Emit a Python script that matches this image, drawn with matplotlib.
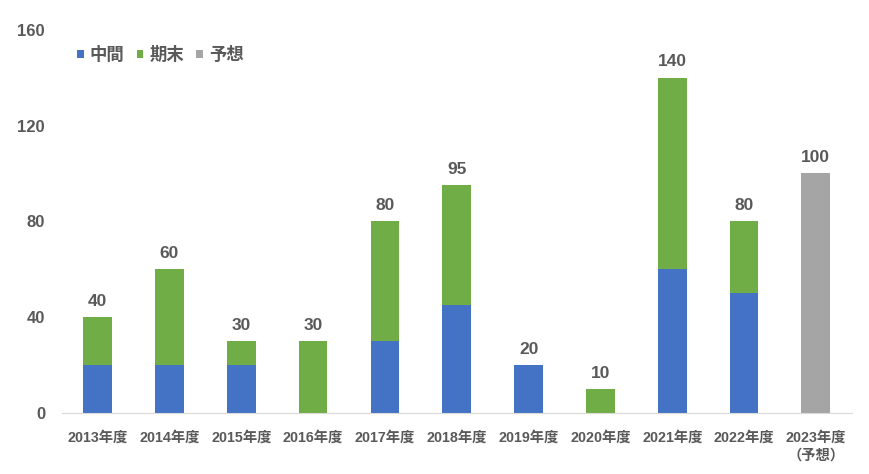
import matplotlib
matplotlib.use("Agg")
import matplotlib.pyplot as plt
import numpy as np

plt.rcParams['font.family'] = ['Liberation Sans', 'Noto Sans CJK JP', 'DejaVu Sans']

categories = ['2013年度', '2014年度', '2015年度', '2016年度', '2017年度', '2018年度',
              '2019年度', '2020年度', '2021年度', '2022年度', '2023年度\n（予想）']
interim = [20, 20, 20, 0, 30, 45, 20, 0, 60, 50, 0]
year_end = [20, 40, 10, 30, 50, 50, 0, 10, 80, 30, 0]
forecast = [0, 0, 0, 0, 0, 0, 0, 0, 0, 0, 100]
totals = [40, 60, 30, 30, 80, 95, 20, 10, 140, 80, 100]
yticks = [0, 40, 80, 120, 160]

c_blue = '#4472C4'
c_green = '#70AD47'
c_grey = '#A5A5A5'
txt = '#595959'

fig = plt.figure(figsize=(8.7, 4.74), dpi=100)
ax = fig.add_axes([0.071, 0.129, 0.908, 0.808])

x = np.arange(len(categories))
w = 0.4
interim = np.array(interim)
year_end = np.array(year_end)
forecast = np.array(forecast)
ax.bar(x, interim, w, color=c_blue, label='中間')
ax.bar(x, year_end, w, bottom=interim, color=c_green, label='期末')
ax.bar(x, forecast, w, bottom=interim + year_end, color=c_grey, label='予想')

for xi, t in zip(x, totals):
    ax.annotate(str(t), (xi, t), xytext=(0, 6), textcoords='offset points',
                ha='center', va='bottom', fontsize=12.5, fontweight='bold', color=txt)

ax.set_xlim(-0.5, len(categories) - 0.5)
ax.set_ylim(0, 160)
ax.set_yticks(yticks)
ax.set_yticklabels([str(v) for v in yticks], fontsize=12, fontweight='bold', color=txt)
ax.set_xticks(x)
ax.set_xticklabels(categories, fontsize=10.3, fontweight='bold', color=txt, linespacing=1.3)
ax.tick_params(axis='both', length=0)
ax.tick_params(axis='y', pad=12)
ax.tick_params(axis='x', pad=13)
for s in ['top', 'right', 'left']:
    ax.spines[s].set_visible(False)
ax.spines['bottom'].set_color('#D9D9D9')

leg = ax.legend(loc='center left', bbox_to_anchor=(0.01, 0.935), ncol=3, frameon=False,
                handlelength=0.4, handleheight=0.4, handletextpad=0.35, columnspacing=0.7,
                borderaxespad=0, prop={'weight': 'bold', 'size': 12.5})
for t in leg.get_texts():
    t.set_color(txt)

fig.savefig('out.png', dpi=100)
